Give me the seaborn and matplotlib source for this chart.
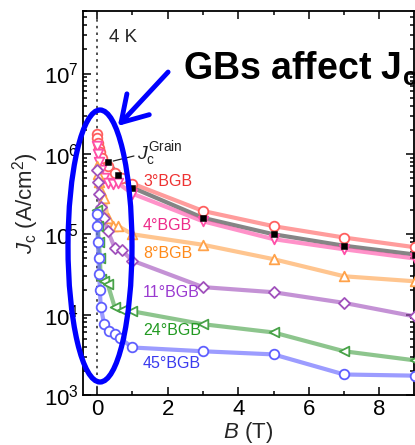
import matplotlib
matplotlib.use("Agg")
import numpy as np
import pandas as pd
import seaborn as sns
import matplotlib.pyplot as plt
from matplotlib.patches import Ellipse, FancyArrowPatch
from matplotlib.ticker import LogLocator, MultipleLocator, NullFormatter

# ---------------- data ----------------
B_grain = [0.3, 0.6, 1.0, 3, 5, 7, 9]
J_grain = [8.0e5, 5.5e5, 3.8e5, 1.6e5, 1.0e5, 7.2e4, 5.6e4]

B_3 = [0, 0.01, 0.02, 0.04, 0.08, 0.15, 0.3, 0.5, 0.7, 1, 3, 5, 7, 9]
J_3 = [1.78e6, 1.58e6, 1.38e6, 1.2e6, 1.05e6, 8.9e5, 7.1e5, 5.75e5, 5.0e5, 4.27e5, 1.95e5, 1.26e5, 9.1e4, 6.9e4]

B_4 = [0, 0.02, 0.05, 0.1, 0.2, 0.3, 0.45, 0.6, 1, 3, 5, 7, 9]
J_4 = [1.26e6, 1.0e6, 7.9e5, 6.3e5, 5.0e5, 4.3e5, 4.2e5, 4.3e5, 3.2e5, 1.45e5, 8.7e4, 6.5e4, 5.0e4]

B_8 = [0, 0.02, 0.05, 0.1, 0.2, 0.3, 0.45, 0.6, 1, 3, 5, 7, 9]
J_8 = [7.1e5, 5.6e5, 4.5e5, 3.5e5, 2.8e5, 1.6e5, 1.26e5, 1.26e5, 1.0e5, 7.4e4, 4.9e4, 3.0e4, 2.6e4]

B_11 = [0, 0.02, 0.05, 0.1, 0.2, 0.3, 0.5, 0.7, 1, 3, 5, 7, 9]
J_11 = [6.3e5, 4.5e5, 3.2e5, 2.2e5, 1.6e5, 1.1e5, 6.8e4, 6.3e4, 4.7e4, 2.2e4, 1.9e4, 1.4e4, 9.5e3]

B_24 = [0, 0.02, 0.05, 0.08, 0.1, 0.2, 0.3, 0.5, 0.7, 1, 3, 5, 7, 9]
J_24 = [2.0e5, 1.26e5, 7.9e4, 5.0e4, 2.8e4, 2.6e4, 2.4e4, 1.23e4, 1.15e4, 1.1e4, 7.6e3, 6.0e3, 3.5e3, 2.7e3]

B_45 = [0, 0.01, 0.02, 0.04, 0.06, 0.08, 0.1, 0.2, 0.35, 0.5, 0.65, 1, 3, 5, 7, 9]
J_45 = [1.8e5, 1.26e5, 7.9e4, 5.0e4, 3.2e4, 2.0e4, 1.26e4, 7.6e3, 6.3e3, 5.8e3, 5.1e3, 3.9e3, 3.5e3, 3.2e3, 1.8e3, 1.74e3]

series_names = ["3°BGB", "4°BGB", "8°BGB", "11°BGB", "24°BGB", "45°BGB"]
series_B = [B_3, B_4, B_8, B_11, B_24, B_45]
series_J = [J_3, J_4, J_8, J_11, J_24, J_45]
line_colors = ["#ff5f5f", "#ff4fa8", "#ffa24a", "#a050bc", "#48a248", "#5f5fff"]
text_colors = ["#ee3333", "#ee2a8a", "#ff8a1a", "#9a3ad0", "#229a22", "#3a3aee"]
markers = ["o", "v", "^", "D", "<", "o"]
label_y = [4.6e5, 1.3e5, 5.8e4, 1.9e4, 6.3e3, 2.5e3]

# ---------------- style ----------------
sns.set_theme(style="ticks")
plt.rcParams["font.family"] = ["Liberation Sans", "DejaVu Sans"]
plt.rcParams["mathtext.fontset"] = "custom"
plt.rcParams["mathtext.rm"] = "Liberation Sans"
plt.rcParams["mathtext.it"] = "Liberation Sans:italic"
plt.rcParams["mathtext.bf"] = "Liberation Sans:bold"

fig = plt.figure(figsize=(4.15, 4.45), dpi=100)
ax = fig.add_axes([83 / 415, 1 - 395 / 445, (414 - 83) / 415, (395 - 11) / 445])

ax.axvline(0, color="#333333", ls=(0, (1.5, 2.5)), lw=1.2, zorder=1)

# grain
dfg = pd.DataFrame({"B": B_grain, "J": J_grain})
sns.lineplot(data=dfg, x="B", y="J", ax=ax, color="#707070", lw=3, alpha=0.85, sort=False, zorder=2)

for name, Bv, Jv, lc, mk in zip(series_names, series_B, series_J, line_colors, markers):
    df = pd.DataFrame({"B": Bv, "J": Jv})
    sns.lineplot(data=df, x="B", y="J", ax=ax, color=lc, lw=3, alpha=0.62, sort=False, zorder=3)
    sns.scatterplot(data=df, x="B", y="J", ax=ax, marker=mk, s=(32 if mk == "D" else 48),
                    facecolor="white", edgecolor=lc, linewidth=1.3, zorder=4)

sns.scatterplot(data=dfg, x="B", y="J", ax=ax, marker="s", s=22, color="black",
                edgecolor="black", zorder=5)

ax.set_yscale("log")
ax.set_xlim(-0.4, 8.98)
ax.set_ylim(1e3, 6e7)
ax.xaxis.set_major_locator(MultipleLocator(2))
ax.xaxis.set_minor_locator(MultipleLocator(1))
ax.yaxis.set_major_locator(LogLocator(base=10, numticks=10))
ax.yaxis.set_minor_locator(LogLocator(base=10, subs=np.arange(2, 10), numticks=100))
ax.yaxis.set_minor_formatter(NullFormatter())
ax.tick_params(which="both", direction="in", top=True, right=True, colors="black", width=1.1)
ax.tick_params(which="major", length=6, labelsize=16, pad=3)
ax.tick_params(which="minor", length=3)
for sp in ax.spines.values():
    sp.set_color("black")
    sp.set_linewidth(1.3)

ax.set_xlabel(r"$B$ (T)", fontsize=16, labelpad=0)
ax.set_ylabel(r"$J_\mathrm{c}$ (A/cm$^2$)", fontsize=16, labelpad=2)

for name, ly, tc in zip(series_names, label_y, text_colors):
    ax.text(1.3, ly, name, color=tc, fontsize=11.5, va="center", ha="left", zorder=6)

ax.text(0.35, 2.8e7, "4 K", fontsize=13.5, va="center", ha="left")
ax.text(1.12, 1.0e6, r"$J_\mathrm{c}^\mathrm{Grain}$", fontsize=14, va="center", ha="left", color="#222222")
ax.annotate("", xy=(0.38, 8.0e5), xytext=(1.12, 9.6e5),
            arrowprops=dict(arrowstyle="-", color="#222222", lw=0.9))

# highlight ellipse + arrow (figure-pixel placement)
ell = Ellipse((100 / 415, 1 - 246 / 445), 64 / 415, 272 / 445, transform=fig.transFigure,
              fill=False, edgecolor="#0000ff", lw=3.8, zorder=10)
fig.patches.append(ell)
arr = FancyArrowPatch((170 / 415, 1 - 70 / 445), (116 / 415, 1 - 128 / 445),
                      transform=fig.transFigure, arrowstyle="->,head_length=9,head_width=5.5",
                      color="#0000ff", lw=3.5, mutation_scale=2)
fig.patches.append(arr)

fig.text(183 / 415, 1 - 80 / 445, r"$\mathbf{GBs\ affect\ J_c}$", fontsize=27,
         va="baseline", ha="left", color="black")

fig.savefig("out.png", dpi=100)
